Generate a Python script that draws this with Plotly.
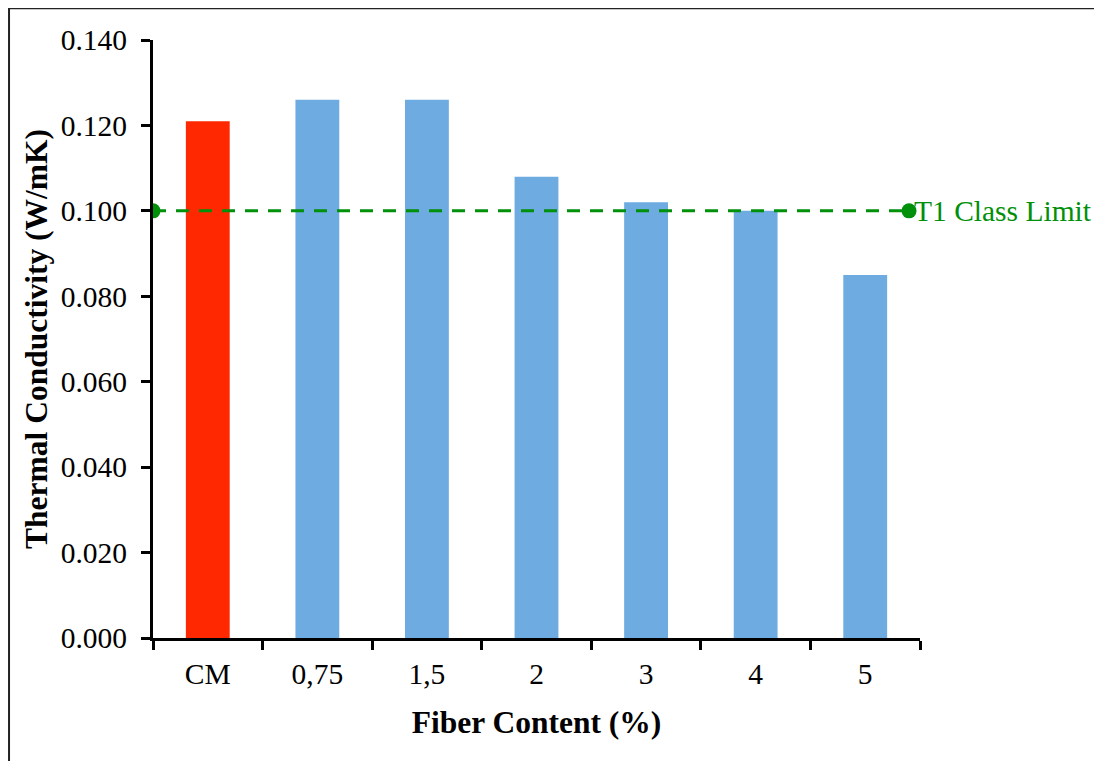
import plotly.graph_objects as go

categories = ["CM", "0,75", "1,5", "2", "3", "4", "5"]
conductivity = [0.121, 0.126, 0.126, 0.108, 0.102, 0.100, 0.085]
bar_colors = ["#FF2800", "#6DABE0", "#6DABE0", "#6DABE0", "#6DABE0", "#6DABE0", "#6DABE0"]
limit_x = [-0.5, 6.4]
limit_y = [0.100, 0.100]
limit_label = "T1 Class Limit"
y_ticks = [0.0, 0.02, 0.04, 0.06, 0.08, 0.10, 0.12, 0.14]

FONT = "Liberation Serif, Times New Roman, serif"
GREEN = "#00900A"

fig = go.Figure()
fig.add_trace(go.Bar(
    x=categories, y=conductivity,
    marker=dict(color=bar_colors, line=dict(width=0)),
    width=0.4, showlegend=False,
))
fig.add_trace(go.Scatter(
    x=limit_x, y=limit_y, xaxis="x2", mode="lines+markers",
    line=dict(color=GREEN, width=3, dash="13px,10px"),
    marker=dict(color=GREEN, size=15),
    showlegend=False,
))
fig.add_annotation(
    x=limit_x[1], y=limit_y[1], xref="x2", yref="y", text=limit_label,
    showarrow=False, xanchor="left", yanchor="middle", xshift=3,
    font=dict(family=FONT, size=29.5, color=GREEN),
)

fig.update_layout(
    width=1094, height=753,
    margin=dict(l=145, r=182, t=32, b=123),
    paper_bgcolor="white", plot_bgcolor="white",
    font=dict(family=FONT, color="black"),
    xaxis=dict(
        type="category", tickson="boundaries", ticks="outside", ticklen=9, tickwidth=3,
        tickcolor="black", showline=True, linecolor="black", linewidth=3,
        showgrid=False, zeroline=False, range=[-0.5, 6.5], ticklabelstandoff=8,
        tickfont=dict(family=FONT, size=29.5, color="black"),
        title=dict(text="<b>Fiber Content (%)</b>", font=dict(family=FONT, size=31.5, color="black"), standoff=22),
    ),
    xaxis2=dict(
        overlaying="x", range=[-0.5, 6.5], visible=False, showgrid=False, zeroline=False,
    ),
    yaxis=dict(
        range=[0, 0.14], tickvals=y_ticks, tickformat=".3f", ticks="outside", ticklen=9,
        tickwidth=3, tickcolor="black", showline=True, linecolor="black", linewidth=3,
        showgrid=False, zeroline=False, ticklabelstandoff=8,
        tickfont=dict(family=FONT, size=29.5, color="black"),
        title=dict(text="<b>Thermal Conductivity (W/mK)</b>", font=dict(family=FONT, size=31.5, color="black"), standoff=4),
    ),
    shapes=[
        dict(type="line", xref="paper", yref="paper", x0=-0.1877, x1=1.35, y0=1.0530, y1=1.0530,
             line=dict(color="#222222", width=2), layer="above"),
        dict(type="line", xref="paper", yref="paper", x0=-0.1877, x1=-0.1877, y0=1.0535, y1=-0.25,
             line=dict(color="#222222", width=2), layer="above"),
    ],
)

fig.write_html("out.html")
